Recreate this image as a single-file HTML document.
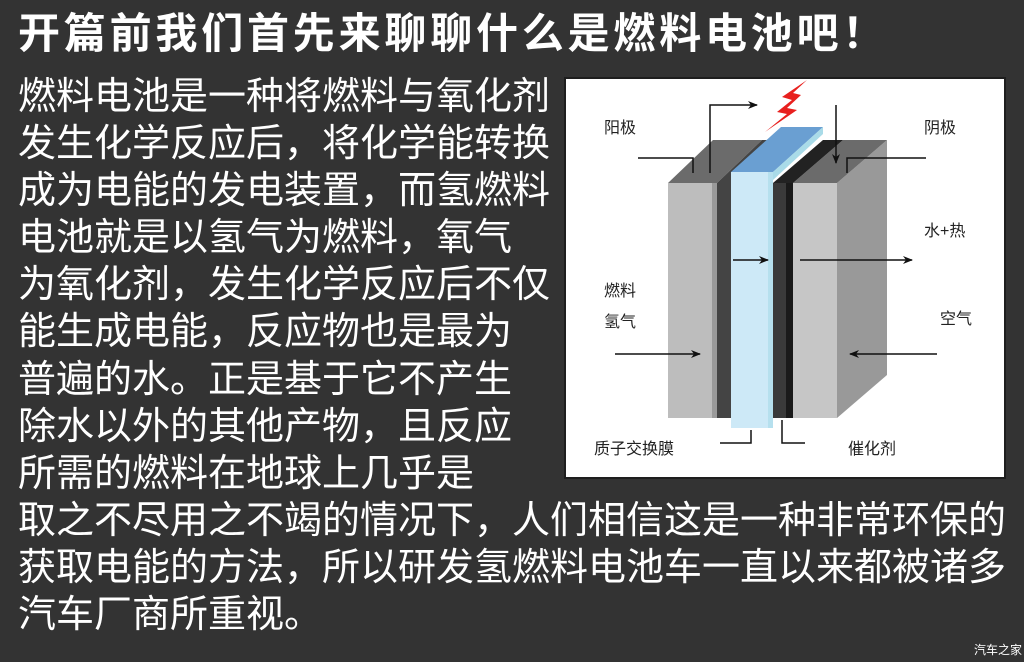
<!DOCTYPE html>
<html><head><meta charset="utf-8"><style>
html,body{margin:0;padding:0;}
body{width:1024px;height:662px;background:#333333;position:relative;overflow:hidden;font-family:"Liberation Sans","Noto Sans CJK SC",sans-serif;color:#fff;}
.title{position:absolute;left:18px;top:8px;font-size:42px;font-weight:bold;line-height:52px;white-space:nowrap;letter-spacing:3.8px;}
.body{position:absolute;left:18px;top:74px;font-size:38px;line-height:47.1px;white-space:nowrap;}
.wm{position:absolute;left:974px;top:641px;font-size:12px;color:#fff;}
svg text{font-family:"Liberation Sans","Noto Sans CJK SC",sans-serif;font-size:16px;fill:#222;}
</style></head><body>
<div class="title">开篇前我们首先来聊聊什么是燃料电池吧！</div>
<div class="body">燃料电池是一种将燃料与氧化剂<br>发生化学反应后，将化学能转换<br>成为电能的发电装置，而氢燃料<br>电池就是以氢气为燃料，氧气<br>为氧化剂，发生化学反应后不仅<br>能生成电能，反应物也是最为<br>普遍的水。正是基于它不产生<br>除水以外的其他产物，且反应<br>所需的燃料在地球上几乎是<br>取之不尽用之不竭的情况下，人们相信这是一种非常环保的<br>获取电能的方法，所以研发氢燃料电池车一直以来都被诸多<br>汽车厂商所重视。</div>
<svg style="position:absolute;left:0;top:0" width="1024" height="662">
<defs><marker id="ah" markerWidth="10" markerHeight="8" refX="9" refY="4" orient="auto" markerUnits="userSpaceOnUse"><path d="M0,0 L10,4 L0,8 L3,4z" fill="#111"/></marker></defs>
<rect x="565" y="78" width="440" height="400" fill="#fff" stroke="#1e1e1e" stroke-width="2"/>
<polygon points="837,183 887,140 887,375 837,418" fill="#999"/>
<polygon points="793,183 837,183 887,140 843,140" fill="#6b6b6b"/>
<rect x="793" y="183" width="44" height="235" fill="#c6c6c6"/>
<polygon points="773,183 793,183 843,140 823,140" fill="#222"/>
<rect x="773" y="183" width="20" height="235" fill="#3a3a3a"/>
<rect x="786" y="183" width="7" height="235" fill="#1a1a1a"/>
<polygon points="668,183 717,183 762,140 713,140" fill="#6b6b6b"/>
<rect x="668" y="183" width="44" height="235" fill="#bdbdbd"/>
<rect x="712" y="183" width="5" height="235" fill="#9a9a9a"/>
<polygon points="717,183 731,183 776,140 762,140" fill="#444"/>
<rect x="717" y="183" width="14" height="235" fill="#444"/>
<polygon points="731,172 773,172 823,127 781,127" fill="#6a9fd2"/>
<polygon points="773,172 823,127 823,134 773,180" fill="#a9dbe8"/>
<rect x="731" y="172" width="42" height="256" fill="#cde9f7"/>
<rect x="768" y="172" width="5" height="256" fill="#b6e0ee"/>
<polygon points="807,80 782,97 792,100 777,112 787,114 765,132 797,110 787,108 801,95 793,93" fill="#e8201e"/>
<g stroke="#111" stroke-width="1.5" fill="none">
<polyline points="638,158 693,158 693,173"/>
<polyline points="710,173 710,105 757,105" marker-end="url(#ah)"/>
<polyline points="926,158 847,158 847,173"/>
<line x1="836" y1="105" x2="836" y2="163" marker-end="url(#ah)"/>
<line x1="800" y1="260" x2="912" y2="260" marker-end="url(#ah)"/>
<line x1="733" y1="260" x2="768" y2="260" marker-end="url(#ah)"/>
<line x1="615" y1="354" x2="700" y2="354" marker-end="url(#ah)"/>
<line x1="937" y1="354" x2="850" y2="354" marker-end="url(#ah)"/>
<polyline points="720,443 751,443 751,430"/>
<polyline points="782,420 782,443 805,443"/>
</g>
<text x="604" y="133">阳极</text>
<text x="924" y="133">阴极</text>
<text x="924" y="236">水+热</text>
<text x="604" y="296">燃料</text>
<text x="604" y="327">氢气</text>
<text x="940" y="324">空气</text>
<text x="594" y="454">质子交换膜</text>
<text x="848" y="454">催化剂</text>
</svg>
<div class="wm">汽车之家</div>
</body></html>
